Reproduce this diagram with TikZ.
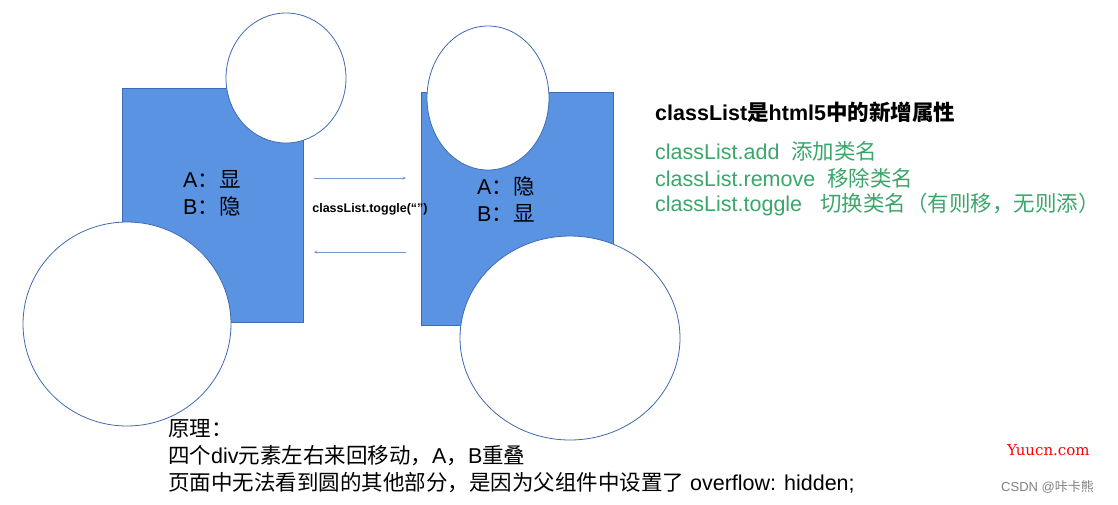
\documentclass[tikz,border=0pt]{standalone}
\usepackage{fontspec}
\setmainfont{Liberation Sans}
\newfontfamily\cjk{Noto Sans CJK SC}
\newfontfamily\serifmono{DejaVu Serif}
\newcommand{\zh}[1]{{\cjk #1}}
\definecolor{boxblue}{HTML}{5B93E3}
\definecolor{edgeblue}{HTML}{3F6AB0}
\definecolor{textgreen}{HTML}{3AA66A}
\begin{document}
\begin{tikzpicture}
            [x=1pt,y=-1pt,
             box/.style={draw=edgeblue,fill=boxblue,line width=0.6pt},
             ball/.style={draw=edgeblue,fill=white,line width=0.8pt},
             flow/.style={draw=edgeblue!70,line width=0.5pt,-stealth},
             txt/.style={inner sep=0pt,anchor=west,font=\fontsize{21.5}{24}\selectfont}]
            \useasboundingbox (0,0) rectangle (1118,504);
            % left group
            \filldraw[box] (122,88) rectangle (303,322);
            \filldraw[ball] (286,78) ellipse [x radius=60,y radius=65];
            \filldraw[ball] (127,324) ellipse [x radius=104,y radius=102];
            % right group
            \filldraw[box] (421,92) rectangle (613,325);
            \filldraw[ball] (488,98) ellipse [x radius=61,y radius=72];
            \filldraw[ball] (570,338) ellipse [x radius=110,y radius=102];

            \node[txt] (LA) at (183,179) {A\zh{：显}};
            \node[txt] (LB) at (183,206) {B\zh{：隐}};
            \node[txt] (RA) at (477,186) {A\zh{：隐}};
            \node[txt] (RB) at (477,213) {B\zh{：显}};

            \coordinate (T1) at (314,178);
            \coordinate (T2) at (406,178);
            \coordinate (B1) at (406,252);
            \coordinate (B2) at (314,252);
            \draw[flow] (T1) -- (T2);
            \draw[flow] (B1) -- (B2);
            \node[inner sep=0pt,font=\bfseries\fontsize{12.5}{14}\selectfont] (tog) at (370,209) {classList.toggle(“”)};

            % notes
            \node[txt,font=\bfseries\fontsize{21.5}{24}\selectfont] (head) at (655,112) {classList\zh{\bfseries 是}html5\zh{\bfseries 中的新增属性}};
            \node[txt,text=textgreen] (add) at (655,151) {classList.add\ \ \zh{添加类名}};
            \node[txt,text=textgreen] (rem) at (655,178) {classList.remove\ \ \zh{移除类名}};
            \node[txt,text=textgreen] (tgl) at (655,205) {classList.toggle\ \ \ \zh{切换类名（有则移，无则添）}};

            \node[txt] (p1) at (168,429) {\zh{原理：}};
            \node[txt] (p2) at (168,456) {\zh{四个}div\zh{元素左右来回移动，}A\zh{，}B\zh{重叠}};
            \node[txt] (p3) at (168,483) {\zh{页面中无法看到圆的其他部分，是因为父组件中设置了} overflow: hidden;};

            \node[txt,text=red,font=\serifmono\fontsize{15}{16}\selectfont] (wm1) at (1007,450) {Yuucn.com};
            \node[txt,text=gray,font=\fontsize{13}{14}\selectfont] (wm2) at (1001,487) {CSDN @\zh{咔卡熊}};
\end{tikzpicture}
\end{document}
